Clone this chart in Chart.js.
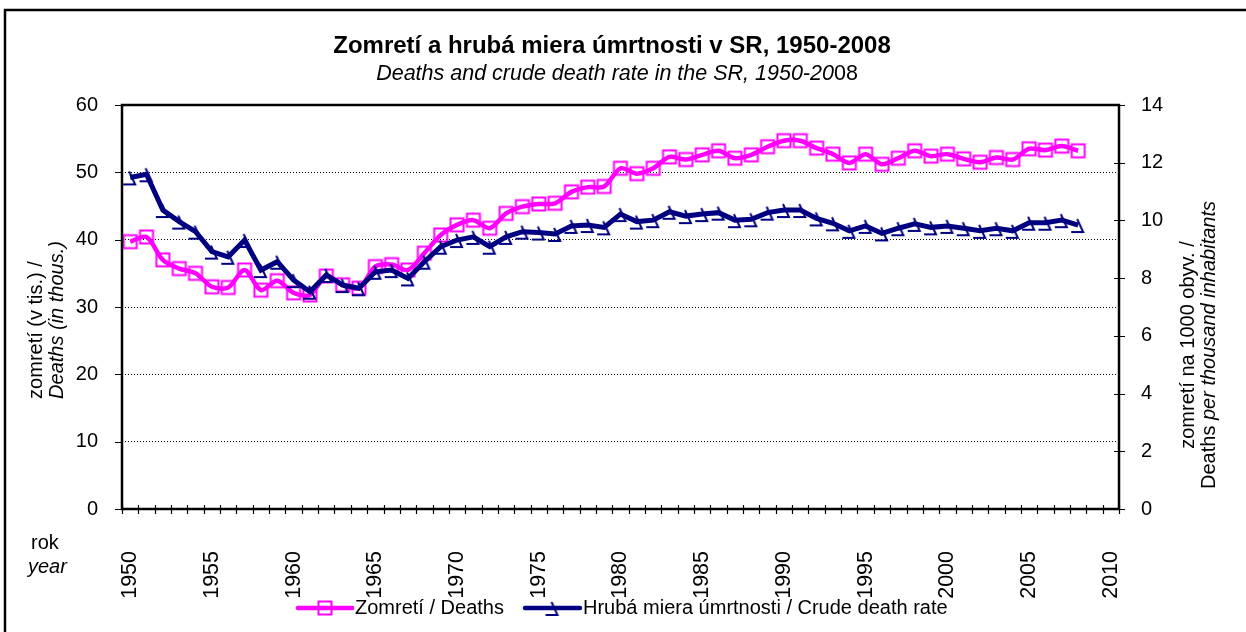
<!DOCTYPE html>
<html>
<head>
<meta charset="utf-8">
<script src="https://cdn.jsdelivr.net/npm/chart.js@4.4.1/dist/chart.umd.min.js"></script>
<style>
html,body{margin:0;padding:0;background:#fff;}
canvas{display:block;}
</style>
</head>
<body>
<canvas id="c" width="1246" height="632"></canvas>
<script>
// ---- data ----
const axisYears = [];
for (let y = 1950; y <= 2010; y++) axisYears.push(String(y));
const deaths = [39.7, 40.4, 37.0, 35.7, 35.0, 33.0, 32.9, 35.5, 32.5, 33.9,
  32.1, 31.8, 34.6, 33.3, 32.8, 36.0, 36.3, 35.5, 38.0, 40.7,
  42.2, 42.9, 41.7, 43.9, 44.9, 45.3, 45.4, 47.1, 47.8, 47.9,
  50.6, 49.8, 50.6, 52.3, 51.9, 52.6, 53.2, 52.1, 52.6, 53.8,
  54.7, 54.7, 53.6, 52.7, 51.4, 52.7, 51.2, 52.1, 53.2, 52.4,
  52.7, 52.0, 51.5, 52.2, 51.9, 53.5, 53.3, 53.9, 53.2];
const rate = [11.49, 11.6, 10.36, 9.96, 9.61, 8.92, 8.74, 9.32, 8.28, 8.57,
  7.93, 7.53, 8.11, 7.76, 7.65, 8.22, 8.28, 7.99, 8.57, 9.09,
  9.32, 9.43, 9.09, 9.43, 9.61, 9.58, 9.53, 9.81, 9.84, 9.76,
  10.22, 9.96, 10.01, 10.30, 10.15, 10.22, 10.27, 10.01, 10.04, 10.27,
  10.36, 10.36, 10.07, 9.90, 9.64, 9.81, 9.55, 9.73, 9.88, 9.76,
  9.81, 9.73, 9.64, 9.73, 9.64, 9.92, 9.92, 10.01, 9.84];
const leftTicks = [0, 10, 20, 30, 40, 50, 60];
const rightTicks = [0, 2, 4, 6, 8, 10, 12, 14];
const seriesNames = ['Zomretí / Deaths', 'Hrubá miera úmrtnosti / Crude death rate'];

const PINK = '#FF00FF', NAVY = '#000080';
const FONT = "'Liberation Sans', Arial, sans-serif";

function squareMarker() {
  const c = document.createElement('canvas');
  c.width = 20; c.height = 20;
  const g = c.getContext('2d');
  g.strokeStyle = PINK; g.lineWidth = 2;
  g.strokeRect(3.5, 3.5, 13, 13);
  return c;
}
function navyMarker() {
  const c = document.createElement('canvas');
  c.width = 30; c.height = 30;
  const g = c.getContext('2d');
  g.strokeStyle = NAVY; g.lineWidth = 2; g.lineCap = 'butt';
  g.beginPath();
  g.moveTo(14, 9);
  g.lineTo(20, 22);
  g.lineTo(8, 22);
  g.stroke();
  return c;
}
const sqImg = squareMarker();
const nvImg = navyMarker();

const decor = {
  id: 'decor',
  beforeDraw(chart) {
    const ctx = chart.ctx;
    ctx.save();
    ctx.fillStyle = '#fff';
    ctx.fillRect(0, 0, chart.width, chart.height);
    ctx.restore();
  },
  afterDraw(chart) {
    const ctx = chart.ctx;
    const a = chart.chartArea;
    const xs = chart.scales.x, yl = chart.scales.y, yr = chart.scales.y1;
    ctx.save();
    // outer frame
    ctx.strokeStyle = '#000'; ctx.lineWidth = 2.5;
    ctx.beginPath();
    ctx.moveTo(5, 640); ctx.lineTo(5, 10); ctx.lineTo(1250, 10);
    ctx.stroke();
    // plot border
    ctx.lineWidth = 2.5;
    ctx.strokeRect(a.left, a.top, a.right - a.left, a.bottom - a.top);
    // x ticks (cross)
    ctx.lineWidth = 1.2;
    const step = xs.getPixelForValue(1) - xs.getPixelForValue(0);
    ctx.beginPath();
    for (let i = 0; i <= axisYears.length; i++) {
      const x = Math.round(xs.getPixelForValue(0) - step / 2 + i * step) + 0.5;
      ctx.moveTo(x, a.bottom - 4); ctx.lineTo(x, a.bottom + 5);
    }
    // left ticks
    leftTicks.forEach(v => {
      const y = Math.round(yl.getPixelForValue(v)) + 0.5;
      ctx.moveTo(a.left - 7, y); ctx.lineTo(a.left, y);
    });
    // right ticks (cross)
    rightTicks.forEach(v => {
      const y = Math.round(yr.getPixelForValue(v)) + 0.5;
      ctx.moveTo(a.right - 5, y); ctx.lineTo(a.right + 6, y);
    });
    ctx.stroke();

    ctx.fillStyle = '#000';
    ctx.textBaseline = 'middle';
    // titles
    ctx.font = 'bold 24px ' + FONT;
    ctx.textAlign = 'center';
    ctx.fillText('Zomretí a hrubá miera úmrtnosti v SR, 1950-2008', 612, 46);
    const s1 = 'Deaths and crude death rate in the SR, 1950-20', s2 = '08';
    ctx.font = 'italic 21.5px ' + FONT;
    const w1 = ctx.measureText(s1).width;
    ctx.font = '21.5px ' + FONT;
    const w2 = ctx.measureText(s2).width;
    let sx = 617 - (w1 + w2) / 2;
    ctx.textAlign = 'left';
    ctx.font = 'italic 21.5px ' + FONT;
    ctx.fillText(s1, sx, 74);
    ctx.font = '21.5px ' + FONT;
    ctx.fillText(s2, sx + w1, 74);

    // rok / year
    ctx.font = '20px ' + FONT;
    ctx.fillText('rok', 31, 543);
    ctx.font = 'italic 20px ' + FONT;
    ctx.fillText('year', 28, 567);

    // left axis title
    ctx.save();
    ctx.translate(36, 330);
    ctx.rotate(-Math.PI / 2);
    ctx.textAlign = 'center';
    ctx.font = '20px ' + FONT;
    ctx.fillText('zomretí (v tis.) /', 0, 0);
    ctx.font = 'italic 20px ' + FONT;
    ctx.fillText('Deaths (in thous.)', 10, 21);
    ctx.restore();

    // right axis title
    ctx.save();
    ctx.translate(1188, 345);
    ctx.rotate(-Math.PI / 2);
    ctx.textAlign = 'center';
    ctx.font = '20px ' + FONT;
    ctx.fillText('zomretí na 1000 obyv. /', 0, 0);
    const r1 = 'Deaths ', r2 = 'per thousand inhabitants';
    const rw1 = ctx.measureText(r1).width;
    ctx.font = 'italic 20px ' + FONT;
    const rw2 = ctx.measureText(r2).width;
    ctx.textAlign = 'left';
    const rx = -(rw1 + rw2) / 2;
    ctx.font = '20px ' + FONT;
    ctx.fillText(r1, rx, 21);
    ctx.font = 'italic 20px ' + FONT;
    ctx.fillText(r2, rx + rw1, 21);
    ctx.restore();

    // legend
    const ly = 608;
    const items = [
      {x0: 298, x1: 352, color: PINK, img: sqImg, text: seriesNames[0]},
      {x0: 525, x1: 580, color: NAVY, img: nvImg, text: seriesNames[1]}
    ];
    items.forEach(it => {
      ctx.strokeStyle = it.color; ctx.lineWidth = 4.5; ctx.lineCap = 'round';
      ctx.beginPath(); ctx.moveTo(it.x0, ly); ctx.lineTo(it.x1, ly); ctx.stroke();
      const cx = (it.x0 + it.x1) / 2;
      ctx.drawImage(it.img, cx - it.img.width / 2, ly - it.img.height / 2);
      ctx.fillStyle = '#000';
      ctx.font = '20px ' + FONT;
      ctx.textAlign = 'left';
      ctx.fillText(it.text, it.x1 + 3, ly);
    });
    ctx.restore();
  }
};

new Chart(document.getElementById('c'), {
  type: 'line',
  data: {
    labels: axisYears,
    datasets: [
      {label: seriesNames[0], data: deaths, yAxisID: 'y', borderColor: PINK, borderWidth: 4.5,
       pointStyle: sqImg, pointRadius: 7, tension: 0.3, order: 1, fill: false},
      {label: seriesNames[1], data: rate, yAxisID: 'y1', borderColor: NAVY, borderWidth: 5,
       pointStyle: nvImg, pointRadius: 7, tension: 0, order: 0, fill: false}
    ]
  },
  options: {
    responsive: false,
    animation: false,
    events: [],
    layout: {padding: {top: 105, left: 0, right: 0, bottom: 0}},
    plugins: {legend: {display: false}, tooltip: {enabled: false}, title: {display: false}},
    font: {family: FONT},
    scales: {
      x: {
        type: 'category',
        offset: true,
        grid: {display: false},
        border: {display: false},
        ticks: {
          autoSkip: false, maxRotation: 90, minRotation: 90, padding: 34,
          color: '#000', font: {family: FONT, size: 21.5},
          callback: function(v, i) { const y = axisYears[i]; return (+y % 5 === 0) ? y : ''; }
        },
        afterFit(s) { s.height = 123; }
      },
      y: {
        position: 'left', min: 0, max: 60,
        border: {display: false, dash: [1, 2]},
        grid: {
          drawTicks: false,
          color: ctx => (ctx.tick.value === 0 || ctx.tick.value === 60) ? 'rgba(0,0,0,0)' : '#000',
          lineWidth: 1
        },
        afterBuildTicks(s) { s.ticks = leftTicks.map(v => ({value: v})); },
        ticks: {padding: 24, color: '#000', font: {family: FONT, size: 20}},
        afterFit(s) { s.width = 122; }
      },
      y1: {
        position: 'right', min: 0, max: 14,
        border: {display: false},
        grid: {drawOnChartArea: false, drawTicks: false},
        afterBuildTicks(s) { s.ticks = rightTicks.map(v => ({value: v})); },
        ticks: {padding: 22, color: '#000', font: {family: FONT, size: 20}},
        afterFit(s) { s.width = 127; }
      }
    }
  },
  plugins: [decor]
});
</script>
</body>
</html>
